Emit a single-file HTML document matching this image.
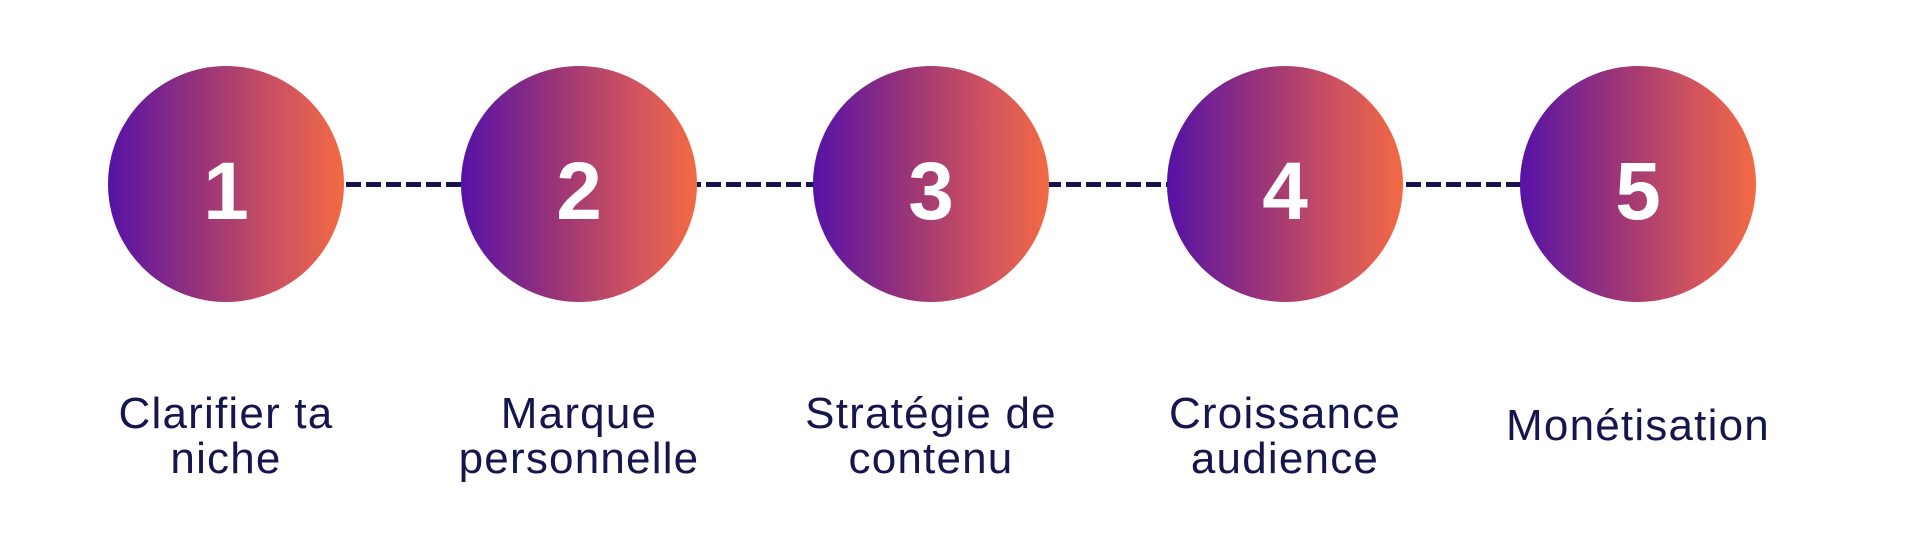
<!DOCTYPE html>
<html><head><meta charset="utf-8"><style>
body{margin:0;width:1920px;height:548px;background:#fff;position:relative;overflow:hidden;font-family:"Liberation Sans",sans-serif}
.c{position:absolute;top:66px;width:236px;height:236px;border-radius:50%;background:linear-gradient(90deg,#5612a6 0%,#9a3478 40%,#d2545e 75%,#f26a43 100%);color:#fff;font-weight:bold;font-size:82px;text-align:center;line-height:236px;z-index:2}
.c span{position:relative;top:8px}
.line{position:absolute;top:182px;height:5px;left:226px;width:1412px;background:repeating-linear-gradient(90deg,#141450 0 15px,transparent 15px 20px);z-index:1}
.t{position:absolute;width:360px;text-align:center;color:#16164f;font-size:44px;line-height:45px;letter-spacing:1.2px}
</style></head><body>
<div class="line"></div>
<div class="c" style="left:108px"><span>1</span></div>
<div class="c" style="left:461px"><span>2</span></div>
<div class="c" style="left:813px"><span>3</span></div>
<div class="c" style="left:1167px"><span>4</span></div>
<div class="c" style="left:1520px"><span>5</span></div>
<div class="t" style="left:46px;top:391px">Clarifier ta<br>niche</div>
<div class="t" style="left:399px;top:391px">Marque<br>personnelle</div>
<div class="t" style="left:751px;top:391px">Stratégie de<br>contenu</div>
<div class="t" style="left:1105px;top:391px">Croissance<br>audience</div>
<div class="t" style="left:1458px;top:403px">Monétisation</div>
</body></html>
